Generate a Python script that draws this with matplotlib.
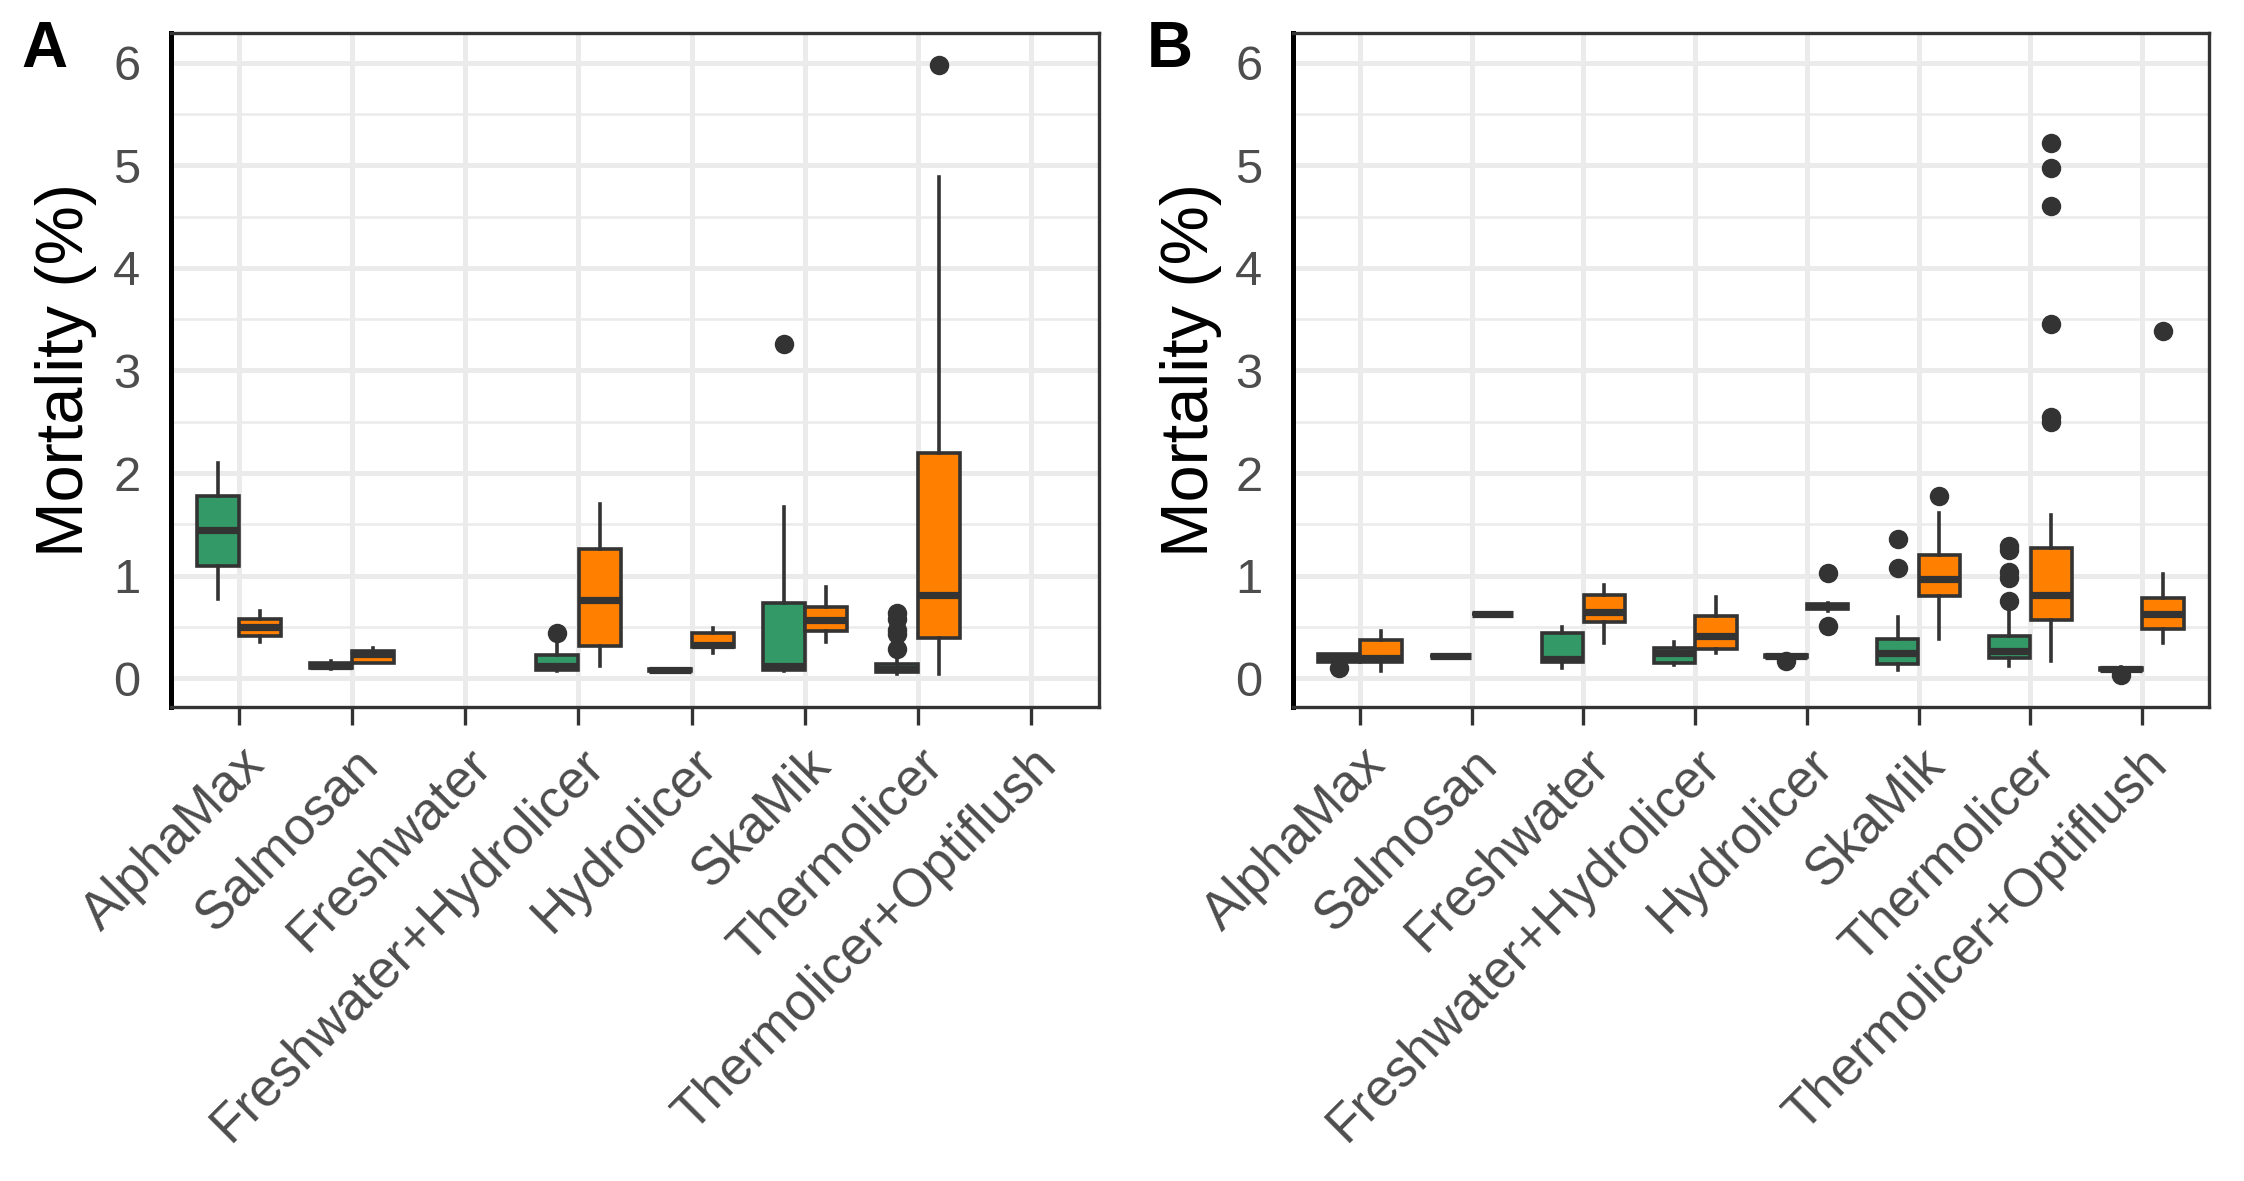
import matplotlib
matplotlib.use("Agg")
import matplotlib.pyplot as plt
from matplotlib.ticker import MultipleLocator

plt.rcParams['font.family'] = ['Liberation Sans', 'DejaVu Sans']

categories = ["AlphaMax", "Salmosan", "Freshwater", "Freshwater+Hydrolicer",
              "Hydrolicer", "SkaMik", "Thermolicer", "Thermolicer+Optiflush"]

# (whisker low, q1, median, q3, whisker high) per category, None = no data
a_green = [(0.77, 1.09, 1.44, 1.78, 2.10), (0.09, 0.10, 0.12, 0.15, 0.17), None,
           (0.07, 0.08, 0.12, 0.23, 0.33), (0.07, 0.07, 0.08, 0.09, 0.09),
           (0.07, 0.08, 0.12, 0.73, 1.67), (0.04, 0.06, 0.09, 0.14, 0.20), None]
a_green_out = [[], [], [], [0.44], [], [3.26], [0.28, 0.43, 0.47, 0.58, 0.64], []]

a_orange = [(0.35, 0.41, 0.50, 0.58, 0.66), (0.15, 0.15, 0.24, 0.27, 0.29), None,
            (0.12, 0.31, 0.76, 1.26, 1.70), (0.25, 0.30, 0.32, 0.44, 0.49),
            (0.35, 0.46, 0.57, 0.69, 0.89), (0.04, 0.39, 0.81, 2.20, 4.89), None]
a_orange_out = [[], [], [], [], [], [], [5.98], []]

b_green = [(0.16, 0.16, 0.20, 0.24, 0.24), (0.22, 0.22, 0.22, 0.22, 0.22),
           (0.10, 0.155, 0.19, 0.44, 0.50), (0.13, 0.15, 0.25, 0.29, 0.35),
           (0.20, 0.21, 0.22, 0.23, 0.24), (0.08, 0.14, 0.25, 0.38, 0.60),
           (0.12, 0.20, 0.27, 0.41, 0.65), (0.07, 0.08, 0.09, 0.10, 0.11)]
b_green_out = [[0.10], [], [], [], [0.17], [1.07, 1.36],
               [0.75, 0.98, 1.04, 1.25, 1.29], [0.03]]

b_orange = [(0.07, 0.16, 0.20, 0.37, 0.46), (0.63, 0.63, 0.63, 0.63, 0.63),
            (0.34, 0.545, 0.65, 0.81, 0.91), (0.25, 0.28, 0.41, 0.61, 0.79),
            (0.66, 0.67, 0.70, 0.72, 0.73), (0.38, 0.80, 0.97, 1.20, 1.61),
            (0.17, 0.57, 0.81, 1.27, 1.59), (0.34, 0.48, 0.63, 0.78, 1.02)]
b_orange_out = [[], [], [], [], [0.51, 1.03], [1.78],
                [2.50, 2.55, 3.45, 4.60, 4.97, 5.22], [3.38]]

GREEN = "#339966"
ORANGE = "#FF8000"
EDGE = "#333333"
GRID = "#EBEBEB"


def draw_panel(ax, green, green_out, orange, orange_out):
    for stats, outs, off, col in ((green, green_out, -0.1875, GREEN),
                                  (orange, orange_out, 0.1875, ORANGE)):
        rows, pos = [], []
        for i, (s, o) in enumerate(zip(stats, outs)):
            if s is None:
                continue
            lo, q1, med, q3, hi = s
            rows.append(dict(whislo=lo, q1=q1, med=med, q3=q3, whishi=hi, fliers=o))
            pos.append(i + off)
        ax.bxp(rows, positions=pos, widths=0.37, patch_artist=True, showcaps=False,
               boxprops=dict(facecolor=col, edgecolor=EDGE, linewidth=1.3),
               medianprops=dict(color=EDGE, linewidth=2.6, solid_capstyle="butt"),
               whiskerprops=dict(color=EDGE, linewidth=1.3),
               flierprops=dict(marker="o", markerfacecolor=EDGE, markeredgecolor=EDGE,
                               markersize=6),
               manage_ticks=False)

    ax.set_xlim(-0.6, len(categories) - 0.4)
    ax.set_ylim(-0.28, 6.29)
    ax.set_xticks(range(len(categories)))
    ax.set_xticklabels(categories, rotation=45, ha="right", rotation_mode="anchor")
    ax.yaxis.set_major_locator(MultipleLocator(1))
    ax.yaxis.set_minor_locator(MultipleLocator(0.5))
    ax.set_axisbelow(True)
    ax.grid(which="major", color=GRID, linewidth=1.8)
    ax.grid(which="minor", axis="y", color=GRID, linewidth=0.9)
    ax.tick_params(axis="x", length=6.5, width=1.2, color=EDGE, labelsize=19,
                   labelcolor="#4D4D4D", pad=5)
    ax.tick_params(axis="y", which="both", length=0, labelsize=17.6,
                   labelcolor="#4D4D4D", pad=11)
    for side in ("top", "right", "bottom"):
        ax.spines[side].set_color(EDGE)
        ax.spines[side].set_linewidth(1.2)
    ax.spines["left"].set_color("black")
    ax.spines["left"].set_linewidth(1.8)


fig = plt.figure(figsize=(11.22, 5.905), dpi=200)
ax_a = fig.add_axes([0.0762, 0.4014, 0.4136, 0.5707])
ax_b = fig.add_axes([0.5762, 0.4014, 0.4082, 0.5707])

draw_panel(ax_a, a_green, a_green_out, a_orange, a_orange_out)
draw_panel(ax_b, b_green, b_green_out, b_orange, b_orange_out)

for x, lx, letter in ((0.0294, 0.020, "A"), (0.5307, 0.5214, "B")):
    fig.text(x, 0.687, "Mortality (%)", rotation=90, ha="center", va="center",
             fontsize=24, color="black")
    fig.text(lx, 0.958, letter, ha="center", va="center", fontsize=23,
             fontweight="bold", color="black")

fig.savefig("out.png", dpi=200)
